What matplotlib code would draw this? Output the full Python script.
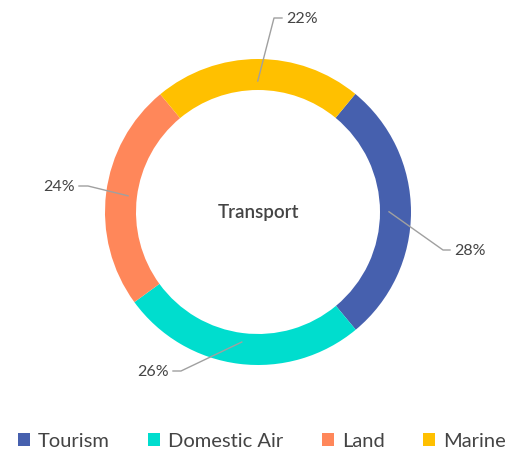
import numpy as np
import matplotlib.pyplot as plt
from matplotlib.patches import Patch

plt.rcParams['font.family'] = ['Lato', 'DejaVu Sans']

categories = ["Tourism", "Domestic Air", "Land", "Marine"]
shares = [28, 26, 24, 22]
colors = ["#4660AE", "#00DDCE", "#FF875A", "#FFC000"]
center_label = "Transport"

W, H = 511, 452
fig = plt.figure(figsize=(W / 100, H / 100), dpi=100)
ax = fig.add_axes([0, 0, 1, 1])

cx, cy = 258, H - 213
R = 153
wedges, _ = ax.pie(shares, colors=colors, startangle=50.5, counterclock=False,
                   center=(cx, cy), radius=R, frame=True,
                   wedgeprops=dict(width=31, linewidth=0))
ax.set_xlim(0, W)
ax.set_ylim(0, H)
ax.set_aspect("equal")
ax.axis("off")

ax.text(cx, cy, center_label, ha="center", va="center", fontsize=13.5,
        color="#444444", fontweight="semibold")

# leader lines: (elbow dx, dy), (end dx), text alignment
leaders = [
    ((185, -38), 7, "left"),
    ((-77, -159), -8, "right"),
    ((-170, 26), -9, "right"),
    ((16, 194), 8, "left"),
]
for w, val, (elb, ext, ha) in zip(wedges, shares, leaders):
    mid = np.deg2rad((w.theta1 + w.theta2) / 2)
    r = 131
    x0, y0 = cx + r * np.cos(mid), cy + r * np.sin(mid)
    ex, ey = cx + elb[0], cy + elb[1]
    ax.plot([x0, ex, ex + ext], [y0, ey, ey], color="#A0A0A0", lw=1)
    tx = ex + ext + (4 if ha == "left" else -4)
    ax.text(tx, ey, f"{val}%", ha=ha, va="center", fontsize=11.5, color="#444444")

handles = [Patch(facecolor=c, edgecolor="none") for c in colors]
fig.legend(handles, categories, loc="center", bbox_to_anchor=(0.512, 1 - 442 / H),
           ncol=4, frameon=False, fontsize=14.5, handlelength=0.6, handleheight=0.6,
           handletextpad=0.4, columnspacing=1.9, labelcolor="#444444",
           borderaxespad=0)

fig.savefig("out.png", dpi=100)
